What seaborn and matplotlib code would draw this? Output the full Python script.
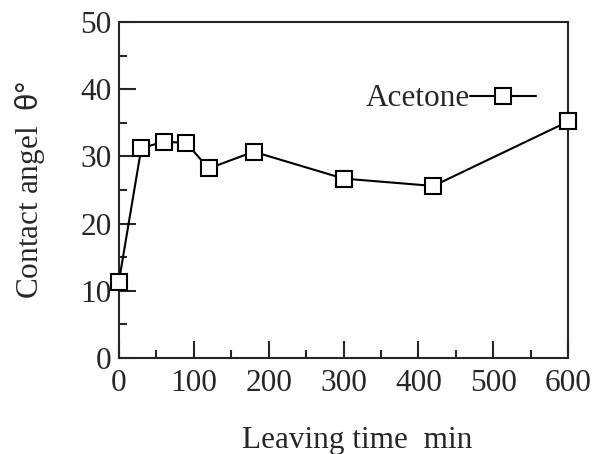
import matplotlib
matplotlib.use("Agg")
import matplotlib.pyplot as plt
import seaborn as sns
import pandas as pd
from matplotlib.ticker import MultipleLocator

time_min = [0, 30, 60, 90, 120, 180, 300, 420, 600]
angle_deg = [11.3, 31.2, 32.2, 32.0, 28.2, 30.7, 26.7, 25.6, 35.2]
series_name = "Acetone"
x_ticks = [0, 100, 200, 300, 400, 500, 600]
y_ticks = [0, 10, 20, 30, 40, 50]

df = pd.DataFrame({"time": time_min, "angle": angle_deg, "series": series_name})

sns.set_style("ticks")
plt.rcParams["font.family"] = ["Liberation Serif", "DejaVu Serif"]
plt.rcParams["mathtext.fontset"] = "custom"
plt.rcParams["mathtext.rm"] = "Liberation Serif"
plt.rcParams["mathtext.sf"] = "Liberation Sans"

FS = 22.5

fig = plt.figure(figsize=(6, 4.54), dpi=100)
ax = fig.add_axes([0.198, 0.2115, 0.749, 0.74])

sns.lineplot(data=df, x="time", y="angle", hue="series", palette=["black"],
             marker="s", markersize=12, markerfacecolor="white",
             markeredgecolor="black", markeredgewidth=1.5, linewidth=1.5,
             ax=ax, legend=True, zorder=3, clip_on=False)

ax.set_xlim(0, 600)
ax.set_ylim(0, 50)
ax.set_xticks(x_ticks)
ax.set_yticks(y_ticks)
ax.xaxis.set_minor_locator(MultipleLocator(50))
ax.yaxis.set_minor_locator(MultipleLocator(5))
ax.tick_params(which="major", direction="in", length=12, width=1.5,
               labelsize=FS, top=False, right=False)
ax.tick_params(which="minor", direction="in", length=6, width=1.5,
               top=False, right=False)
ax.tick_params(axis="x", which="major", pad=8)
ax.tick_params(axis="y", which="major", pad=5)
for s in ax.spines.values():
    s.set_linewidth(1.5)
    s.set_visible(True)

ax.set_xlabel("Leaving time  min", fontsize=FS, labelpad=20)
ax.xaxis.label.set_x(0.53)
ax.set_ylabel("Contact angel  $\\mathsf{\\theta°}$", fontsize=FS, labelpad=24)

handles, labels = ax.get_legend_handles_labels()
ax.legend(handles, labels, loc="center right", bbox_to_anchor=(0.9555, 0.771),
          frameon=False, markerfirst=False, fontsize=FS, handlelength=2.1,
          handletextpad=0.0, borderaxespad=0)

fig.savefig("out.png", dpi=100)
